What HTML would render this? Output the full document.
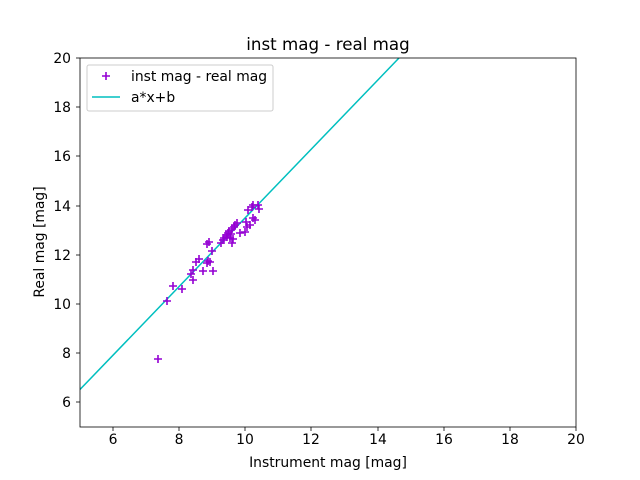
<!DOCTYPE html>
<html><head><style>body{margin:0;background:#fff}svg{display:block}text{font-family:"DejaVu Sans","Liberation Sans",sans-serif;fill:#000}</style></head><body>
<svg width="640" height="480" viewBox="0 0 640 480">
<defs><clipPath id="c"><rect x="80" y="58" width="496" height="369"/></clipPath>
<path id="p" d="M-4 0H4M0 -4V4" stroke="#9400d3" stroke-width="1.6" fill="none"/></defs>
<g clip-path="url(#c)">
<line x1="80" y1="389.5" x2="399" y2="58" stroke="#00bfbf" stroke-width="1.5"/>
<g>
<use href="#p" x="158" y="359"/><use href="#p" x="167" y="301"/><use href="#p" x="173" y="286"/><use href="#p" x="182" y="289"/><use href="#p" x="193" y="280"/><use href="#p" x="191" y="274"/><use href="#p" x="193" y="270"/><use href="#p" x="196" y="262"/><use href="#p" x="199" y="259"/><use href="#p" x="203" y="271"/><use href="#p" x="213" y="271"/><use href="#p" x="207" y="263"/><use href="#p" x="208" y="261"/><use href="#p" x="210" y="262"/><use href="#p" x="212" y="251"/><use href="#p" x="207" y="244"/><use href="#p" x="209" y="242"/><use href="#p" x="221" y="243"/><use href="#p" x="223" y="240"/><use href="#p" x="226" y="235"/><use href="#p" x="228" y="233"/><use href="#p" x="232" y="229"/><use href="#p" x="235" y="225"/><use href="#p" x="237" y="223"/><use href="#p" x="232" y="243"/><use href="#p" x="233" y="239"/><use href="#p" x="230" y="238"/><use href="#p" x="227" y="237"/><use href="#p" x="245" y="232"/><use href="#p" x="247" y="227"/><use href="#p" x="250" y="225"/><use href="#p" x="246" y="222"/><use href="#p" x="253" y="218"/><use href="#p" x="255" y="220"/><use href="#p" x="248" y="210"/><use href="#p" x="253" y="205"/><use href="#p" x="258" y="205"/><use href="#p" x="259" y="209"/><use href="#p" x="252" y="207"/><use href="#p" x="240" y="233"/><use href="#p" x="229" y="231"/><use href="#p" x="234" y="227"/><use href="#p" x="224" y="238"/><use href="#p" x="231" y="234"/>
</g></g>
<rect x="80" y="58" width="496" height="369" fill="none" stroke="#000" stroke-width="0.8"/>
<g stroke="#000" stroke-width="0.8">
<line x1="113" y1="427" x2="113" y2="431"/><line x1="179" y1="427" x2="179" y2="431"/><line x1="245" y1="427" x2="245" y2="431"/><line x1="311" y1="427" x2="311" y2="431"/><line x1="378" y1="427" x2="378" y2="431"/><line x1="444" y1="427" x2="444" y2="431"/><line x1="510" y1="427" x2="510" y2="431"/><line x1="576" y1="427" x2="576" y2="431"/>
<line x1="76" y1="58" x2="80" y2="58"/><line x1="76" y1="107" x2="80" y2="107"/><line x1="76" y1="156" x2="80" y2="156"/><line x1="76" y1="206" x2="80" y2="206"/><line x1="76" y1="255" x2="80" y2="255"/><line x1="76" y1="304" x2="80" y2="304"/><line x1="76" y1="353" x2="80" y2="353"/><line x1="76" y1="402" x2="80" y2="402"/>
</g>
<g font-size="13.9" text-anchor="middle">
<text x="113" y="444">6</text><text x="179" y="444">8</text><text x="245" y="444">10</text><text x="311" y="444">12</text><text x="378" y="444">14</text><text x="444" y="444">16</text><text x="510" y="444">18</text><text x="576" y="444">20</text>
</g>
<g font-size="13.9" text-anchor="end">
<text x="71" y="63">20</text><text x="71" y="112">18</text><text x="71" y="161">16</text><text x="71" y="211">14</text><text x="71" y="260">12</text><text x="71" y="309">10</text><text x="71" y="358">8</text><text x="71" y="407">6</text>
</g>
<text x="328" y="467" font-size="13.9" text-anchor="middle">Instrument mag [mag]</text>
<text transform="translate(44,242) rotate(-90)" font-size="13.9" text-anchor="middle">Real mag [mag]</text>
<text x="328" y="50" font-size="16.7" text-anchor="middle">inst mag - real mag</text>
<rect x="87" y="65" width="186" height="46" rx="2" fill="#fff" fill-opacity="0.8" stroke="#ccc"/>
<use href="#p" x="106" y="76"/>
<text x="131" y="81" font-size="13.9">inst mag - real mag</text>
<line x1="92" y1="97" x2="120" y2="97" stroke="#00bfbf" stroke-width="1.5"/>
<text x="131" y="102" font-size="13.9">a*x+b</text>
</svg>
</body></html>
